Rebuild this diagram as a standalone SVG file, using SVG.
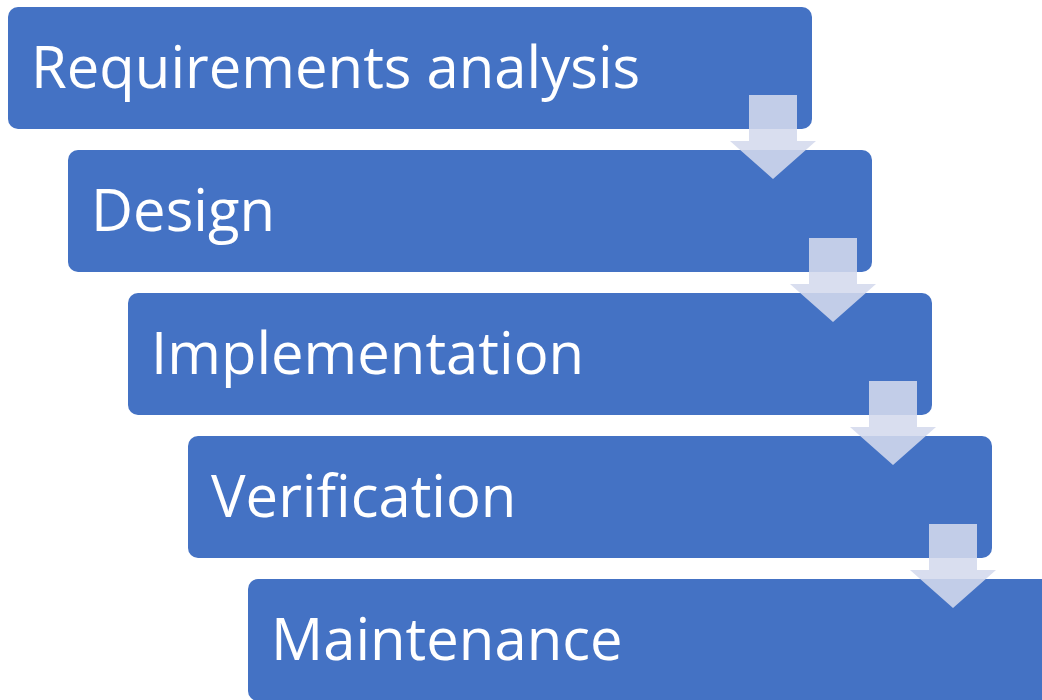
<svg xmlns="http://www.w3.org/2000/svg" width="1042" height="700" viewBox="0 0 1042 700">
<style>
.box{fill:#4472c4;}
.lbl{fill:#ffffff;font-family:"Open Sans","Liberation Sans",sans-serif;font-size:58px;}
.arr{fill:#d4d9ed;fill-opacity:0.88;}
</style>
<defs>
<path id="a" d="M749 95 H797 V141 H816 L773 179 L730 141 H749 Z"/>
</defs>
<rect width="1042" height="700" fill="#ffffff"/>
<g id="node1"><rect class="box" x="8" y="7" width="804" height="122" rx="10"/><text class="lbl" x="31" y="88">Requirements analysis</text></g>
<g id="node2"><rect class="box" x="68" y="150" width="804" height="122" rx="10"/><text class="lbl" x="91" y="231">Design</text></g>
<g id="node3"><rect class="box" x="128" y="293" width="804" height="122" rx="10"/><text class="lbl" x="151" y="374">Implementation</text></g>
<g id="node4"><rect class="box" x="188" y="436" width="804" height="122" rx="10"/><text class="lbl" x="211" y="517">Verification</text></g>
<g id="node5"><rect class="box" x="248" y="579" width="804" height="122" rx="10"/><text class="lbl" x="271" y="660">Maintenance</text></g>
<g id="connectors">
<use href="#a" class="arr"/>
<use href="#a" class="arr" transform="translate(60,143)"/>
<use href="#a" class="arr" transform="translate(120,286)"/>
<use href="#a" class="arr" transform="translate(180,429)"/>
</g>
</svg>
